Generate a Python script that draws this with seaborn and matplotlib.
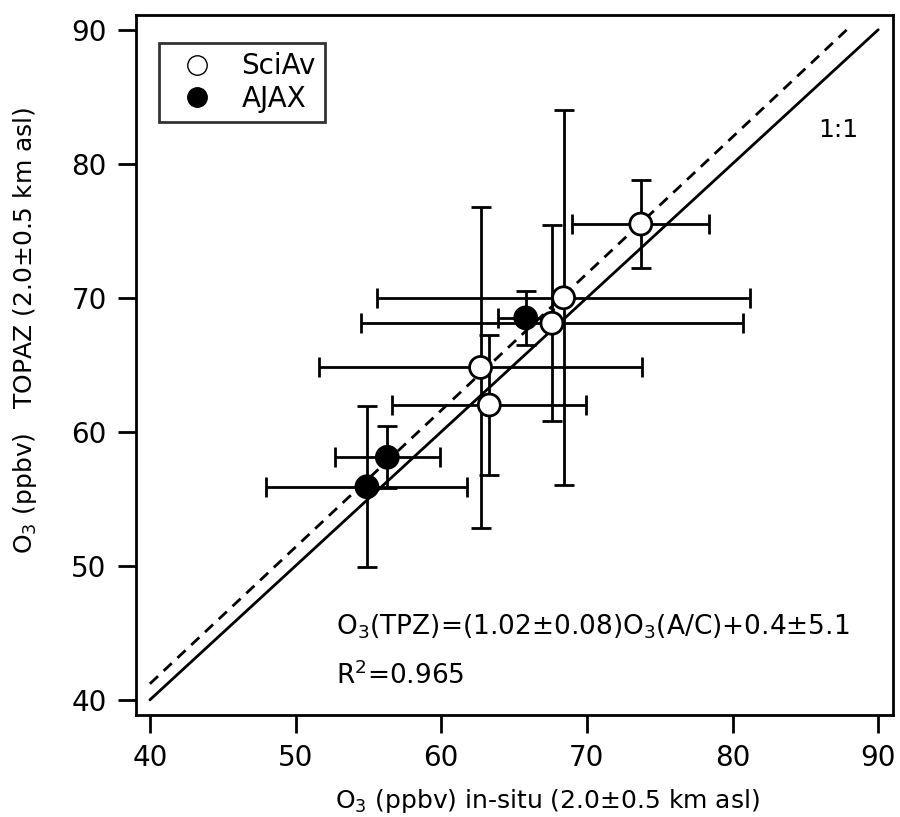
import numpy as np
import pandas as pd
import matplotlib
matplotlib.use("Agg")
import matplotlib.pyplot as plt
from matplotlib.lines import Line2D
import seaborn as sns

# Aircraft in-situ O3 vs TOPAZ lidar O3 (ppbv), with 1-sigma variability
sciav_x = [73.7, 68.4, 67.6, 62.7, 63.3]
sciav_y = [75.5, 70.0, 68.1, 64.8, 62.0]
sciav_xerr = [4.7, 12.8, 13.1, 11.1, 6.65]
sciav_yerr = [3.3, 14.0, 7.3, 12.0, 5.2]

ajax_x = [65.8, 56.3, 54.9]
ajax_y = [68.5, 58.1, 55.9]
ajax_xerr = [1.9, 3.6, 6.9]
ajax_yerr = [2.0, 2.3, 6.0]

platforms = ["SciAv", "AJAX"]
fit_slope = 1.02
fit_intercept = 0.4
ticks = [40, 50, 60, 70, 80, 90]

df = pd.DataFrame({
    "insitu": sciav_x + ajax_x,
    "topaz": sciav_y + ajax_y,
    "xerr": sciav_xerr + ajax_xerr,
    "yerr": sciav_yerr + ajax_yerr,
    "platform": ["SciAv"] * len(sciav_x) + ["AJAX"] * len(ajax_x),
})

sns.set_style("ticks")
plt.rcParams["font.family"] = ["DejaVu Sans"]
plt.rcParams["mathtext.fontset"] = "dejavusans"
plt.rcParams["text.color"] = "black"
plt.rcParams["axes.labelcolor"] = "black"

fig = plt.figure(figsize=(9, 8.17), dpi=100)
ax = fig.add_axes([0.151, 0.125, 0.841, 0.857])

# 1:1 line and regression fit
ax.plot([40, 90], [40, 90], color="black", lw=2, zorder=1)
fx = np.array([40, (90 - fit_intercept) / fit_slope])
ax.plot(fx, fit_slope * fx + fit_intercept, color="black", lw=2,
        ls=(0, (4, 2.8)), zorder=1)

# Error bars
ax.errorbar(df["insitu"], df["topaz"], xerr=df["xerr"], yerr=df["yerr"],
            fmt="none", ecolor="black", elinewidth=2, capsize=7,
            capthick=2, zorder=2)

# Points
sns.scatterplot(data=df, x="insitu", y="topaz", hue="platform",
                palette={"SciAv": "white", "AJAX": "black"},
                hue_order=platforms, s=250, edgecolor="black",
                linewidth=2, legend=False, zorder=3, ax=ax)

ax.set_xlim(39.04, 91.0)
ax.set_ylim(38.88, 91.12)
ax.set_xticks(ticks)
ax.set_yticks(ticks)
ax.tick_params(axis="both", direction="out", length=13, width=2,
               labelsize=20, pad=8, colors="black")
for s in ax.spines.values():
    s.set_visible(True)
    s.set_linewidth(2)
    s.set_color("black")

ax.set_xlabel(r"O$_3$ (ppbv) in-situ (2.0±0.5 km asl)", fontsize=18)
ax.set_ylabel(r"O$_3$ (ppbv)   TOPAZ (2.0±0.5 km asl)", fontsize=18)
ax.xaxis.set_label_coords(0.544, -0.103)
ax.yaxis.set_label_coords(-0.128, 0.55)

ax.text(87.25, 82.5, "1:1", fontsize=18, ha="center", va="center")
ax.text(52.8, 45.45, r"O$_3$(TPZ)=(1.02±0.08)O$_3$(A/C)+0.4±5.1",
        fontsize=19, ha="left", va="center")
ax.text(52.8, 41.8, r"R$^2$=0.965", fontsize=19, ha="left", va="center")

handles = [
    Line2D([], [], marker="o", ls="none", markersize=14,
           markerfacecolor="white", markeredgecolor="black", markeredgewidth=1),
    Line2D([], [], marker="o", ls="none", markersize=14,
           markerfacecolor="black", markeredgecolor="black"),
]
leg = ax.legend(handles, platforms, loc="upper left", fontsize=20,
                frameon=True, fancybox=False, edgecolor="black",
                bbox_to_anchor=(0.031, 0.96), borderaxespad=0.0,
                handletextpad=0.6, borderpad=0.35, labelspacing=0.15,
                handlelength=2.0)
leg.get_frame().set_linewidth(2)

fig.savefig("out.png", dpi=100)
